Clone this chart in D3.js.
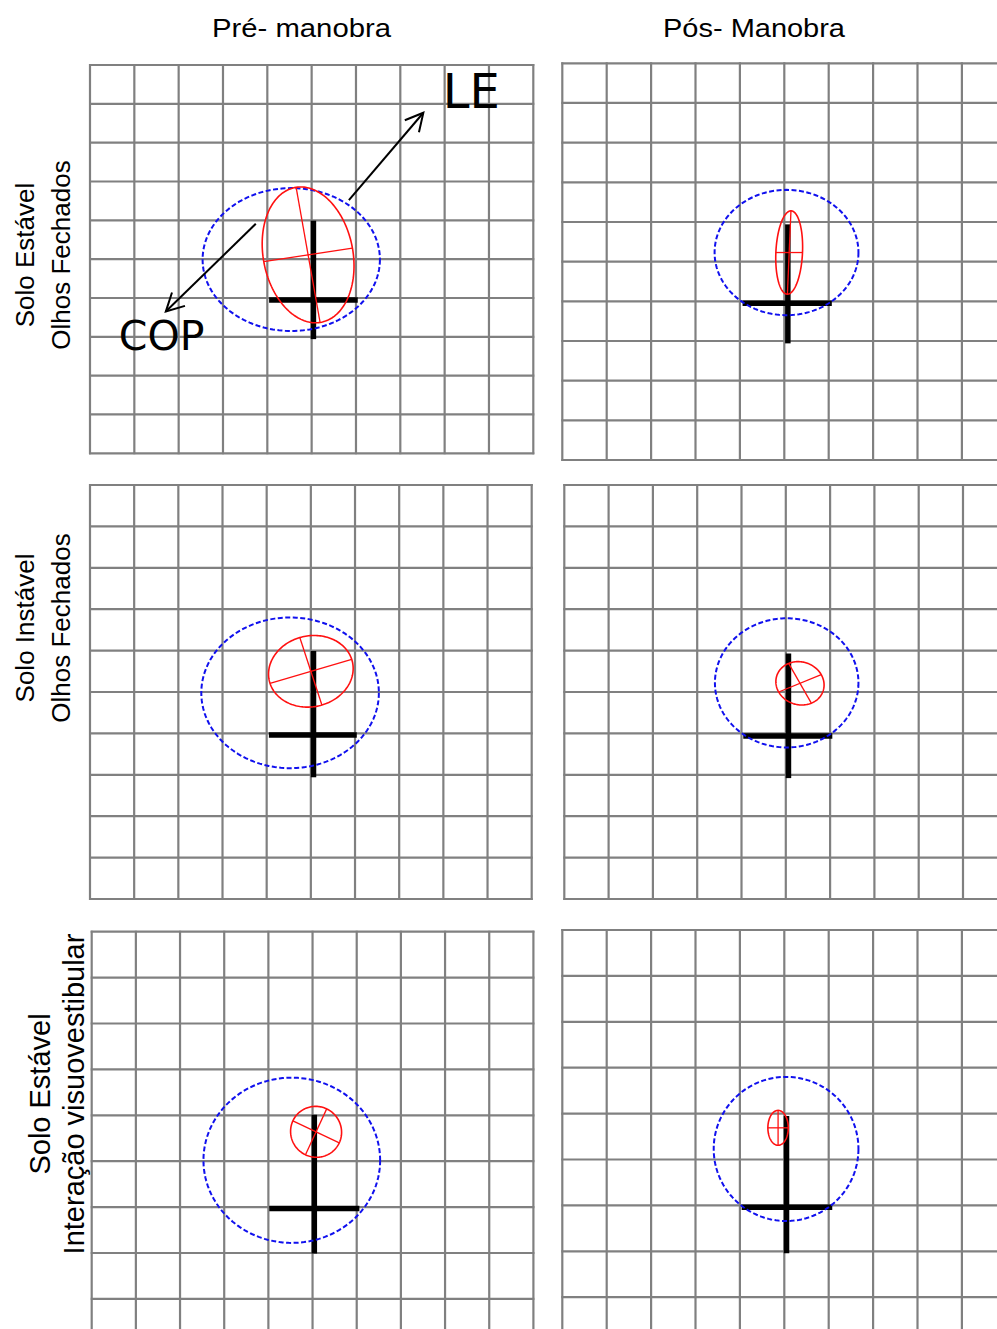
<!DOCTYPE html>
<html>
<head>
<meta charset="utf-8">
<script src="https://cdn.jsdelivr.net/npm/d3@7"></script>
<style>
  html, body { margin: 0; padding: 0; background: #fff; }
  svg { display: block; }
</style>
</head>
<body>
<div id="chart"></div>
<script>
// ---------------- DATA (grid units; x → right, y → down, 10 × 10 cells) ----------------
const columnTitles = ["Pré- manobra", "Pós- Manobra"];
const rowLabelLine1 = ["Solo Estável", "Solo Instável", "Solo Estável"];
const rowLabelLine2 = ["Olhos Fechados", "Olhos Fechados", "Interação visuovestibular"];
const gridTicks = [0, 1, 2, 3, 4, 5, 6, 7, 8, 9, 10];

// panels in row-major order: [pre, post] × 3 conditions
const crossX      = [5.04, 5.08, 5.06, 5.06, 5.04, 5.05];
const crossY      = [6.05, 6.05, 6.04, 6.06, 6.03, 6.04];
const crossLeft   = [4.04, 4.06, 4.05, 4.04, 4.02, 4.04];
const crossRight  = [6.04, 6.07, 6.04, 6.05, 6.06, 6.08];
const crossTop    = [4.01, 4.06, 4.01, 4.07, 3.99, 4.05];
const crossBottom = [7.06, 7.06, 7.06, 7.08, 7.01, 7.04];

const blueCx = [4.54, 5.05, 4.53, 5.02, 4.53, 5.04];
const blueCy = [5.01, 4.77, 5.02, 4.78, 4.98, 4.77];
const blueRx = [2.00, 1.62, 2.01, 1.62, 2.00, 1.63];
const blueRy = [1.84, 1.58, 1.82, 1.56, 1.80, 1.57];

// red ellipse: centre + two semi-axis vectors (u, v)
const redCx = [4.92, 5.11, 5.00, 5.32, 5.08, 4.86];
const redCy = [4.89, 4.77, 4.50, 4.79, 4.36, 4.31];
const redUx = [-0.27, 0.04, 0.925, -0.256, 0.525, 0.00];
const redUy = [-1.74, -1.05, -0.29, -0.48, 0.24, -0.38];
const redVx = [1.00, 0.30, 0.25, 0.48, 0.24, 0.23];
const redVy = [-0.175, 0.00, 0.815, -0.21, -0.50, 0.00];

// annotations in panel 1 (grid units)
const annLabels = ["LE", "COP"];
const annFromX = [5.84, 3.74];
const annFromY = [3.48, 4.09];
const annToX   = [7.52, 1.71];
const annToY   = [1.23, 6.35];
const annTextX = [7.96, 0.65];
const annTextY = [1.11, 7.34];

// ---------------- LAYOUT ----------------
const W = 997, H = 1329;
const panelLeft   = [90, 562.3, 90, 564.3, 91.7, 562.3];
const panelTop    = [65, 63.3, 485, 485, 931.7, 930];
const panelWidth  = [443.3, 444, 441.7, 443, 441.7, 444];
const panelHeight = [388.3, 396.7, 414, 414, 459, 459];

const svg = d3.select("#chart").append("svg")
  .attr("width", W).attr("height", H)
  .attr("viewBox", `0 0 ${W} ${H}`);

// column titles
const titleX = [301.5, 754];
const titleLen = [179, 182];
svg.selectAll("text.title").data(columnTitles).join("text")
  .attr("class", "title")
  .attr("x", (d, i) => titleX[i] - titleLen[i] / 2)
  .attr("y", 36.5)
  .attr("textLength", (d, i) => titleLen[i])
  .attr("lengthAdjust", "spacingAndGlyphs")
  .attr("font-family", "Liberation Sans, Arial, sans-serif")
  .attr("font-size", 25)
  .attr("fill", "#000")
  .text(d => d);

// row labels (rotated)
const rowCy = [255, 628, 1094];
const rowX1 = [34, 34, 50];
const rowX2 = [70, 70, 84];
const rowFont = [26, 26, 29];
rowLabelLine1.forEach((t, i) => {
  svg.append("text")
    .attr("transform", `translate(${rowX1[i]},${rowCy[i]}) rotate(-90)`)
    .attr("text-anchor", "middle")
    .attr("font-family", "Liberation Sans, Arial, sans-serif")
    .attr("font-size", rowFont[i]).attr("fill", "#000").text(t);
  svg.append("text")
    .attr("transform", `translate(${rowX2[i]},${rowCy[i]}) rotate(-90)`)
    .attr("text-anchor", "middle")
    .attr("font-family", "Liberation Sans, Arial, sans-serif")
    .attr("font-size", rowFont[i]).attr("fill", "#000").text(rowLabelLine2[i]);
});

function ellipsePoints(cx, cy, ux, uy, vx, vy, n) {
  const pts = [];
  for (let k = 0; k < n; k++) {
    const t = (k / n) * 2 * Math.PI;
    pts.push([cx + ux * Math.cos(t) + vx * Math.sin(t), cy + uy * Math.cos(t) + vy * Math.sin(t)]);
  }
  return pts;
}

panelLeft.forEach((L, p) => {
  const x = d3.scaleLinear().domain([0, 10]).range([L, L + panelWidth[p]]);
  const y = d3.scaleLinear().domain([0, 10]).range([panelTop[p], panelTop[p] + panelHeight[p]]);
  const g = svg.append("g");

  // grid
  g.selectAll("line.v").data(gridTicks).join("line").attr("class", "v")
    .attr("x1", d => x(d)).attr("x2", d => x(d))
    .attr("y1", y(0) - 1).attr("y2", y(10) + 1)
    .attr("stroke", "#808080").attr("stroke-width", 2.2);
  g.selectAll("line.h").data(gridTicks).join("line").attr("class", "h")
    .attr("y1", d => y(d)).attr("y2", d => y(d))
    .attr("x1", x(0) - 1).attr("x2", x(10) + 1)
    .attr("stroke", "#808080").attr("stroke-width", 2.2);

  const line = d3.line().x(d => x(d[0])).y(d => y(d[1])).curve(d3.curveLinearClosed);

  // black cross
  g.append("line")
    .attr("x1", x(crossLeft[p])).attr("x2", x(crossRight[p]))
    .attr("y1", y(crossY[p])).attr("y2", y(crossY[p]))
    .attr("stroke", "#000").attr("stroke-width", 5.5);
  g.append("line")
    .attr("x1", x(crossX[p])).attr("x2", x(crossX[p]))
    .attr("y1", y(crossTop[p])).attr("y2", y(crossBottom[p]))
    .attr("stroke", "#000").attr("stroke-width", 5.5);

  // blue dashed ellipse
  g.append("path")
    .attr("d", line(ellipsePoints(blueCx[p], blueCy[p], blueRx[p], 0, 0, blueRy[p], 180)))
    .attr("fill", "none").attr("stroke", "#1010ee").attr("stroke-width", 2)
    .attr("stroke-dasharray", "5,2.5");

  // red ellipse and its axes
  g.append("path")
    .attr("d", line(ellipsePoints(redCx[p], redCy[p], redUx[p], redUy[p], redVx[p], redVy[p], 180)))
    .attr("fill", "none").attr("stroke", "#ff1010").attr("stroke-width", 1.6);
  [[redUx[p], redUy[p]], [redVx[p], redVy[p]]].forEach(([ax, ay]) => {
    g.append("line")
      .attr("x1", x(redCx[p] - ax)).attr("y1", y(redCy[p] - ay))
      .attr("x2", x(redCx[p] + ax)).attr("y2", y(redCy[p] + ay))
      .attr("stroke", "#ff1010").attr("stroke-width", 1.3);
  });

  // annotations (panel 1 only)
  if (p === 0) {
    annLabels.forEach((lab, i) => {
      const x1 = x(annFromX[i]), y1 = y(annFromY[i]);
      const x2 = x(annToX[i]), y2 = y(annToY[i]);
      g.append("line").attr("x1", x1).attr("y1", y1).attr("x2", x2).attr("y2", y2)
        .attr("stroke", "#000").attr("stroke-width", 2);
      const ang = Math.atan2(y1 - y2, x1 - x2);
      const len = 20, spread = Math.PI / 6.5;
      const head = [
        [x2 + len * Math.cos(ang - spread), y2 + len * Math.sin(ang - spread)],
        [x2, y2],
        [x2 + len * Math.cos(ang + spread), y2 + len * Math.sin(ang + spread)]
      ];
      g.append("path").attr("d", d3.line()(head))
        .attr("fill", "none").attr("stroke", "#000").attr("stroke-width", 2);
      g.append("text")
        .attr("x", x(annTextX[i])).attr("y", y(annTextY[i]))
        .attr("font-family", "DejaVu Sans, sans-serif")
        .attr("font-size", i === 0 ? 48 : 41)
        .attr("fill", "#000").text(lab);
    });
  }
});
</script>
</body>
</html>
